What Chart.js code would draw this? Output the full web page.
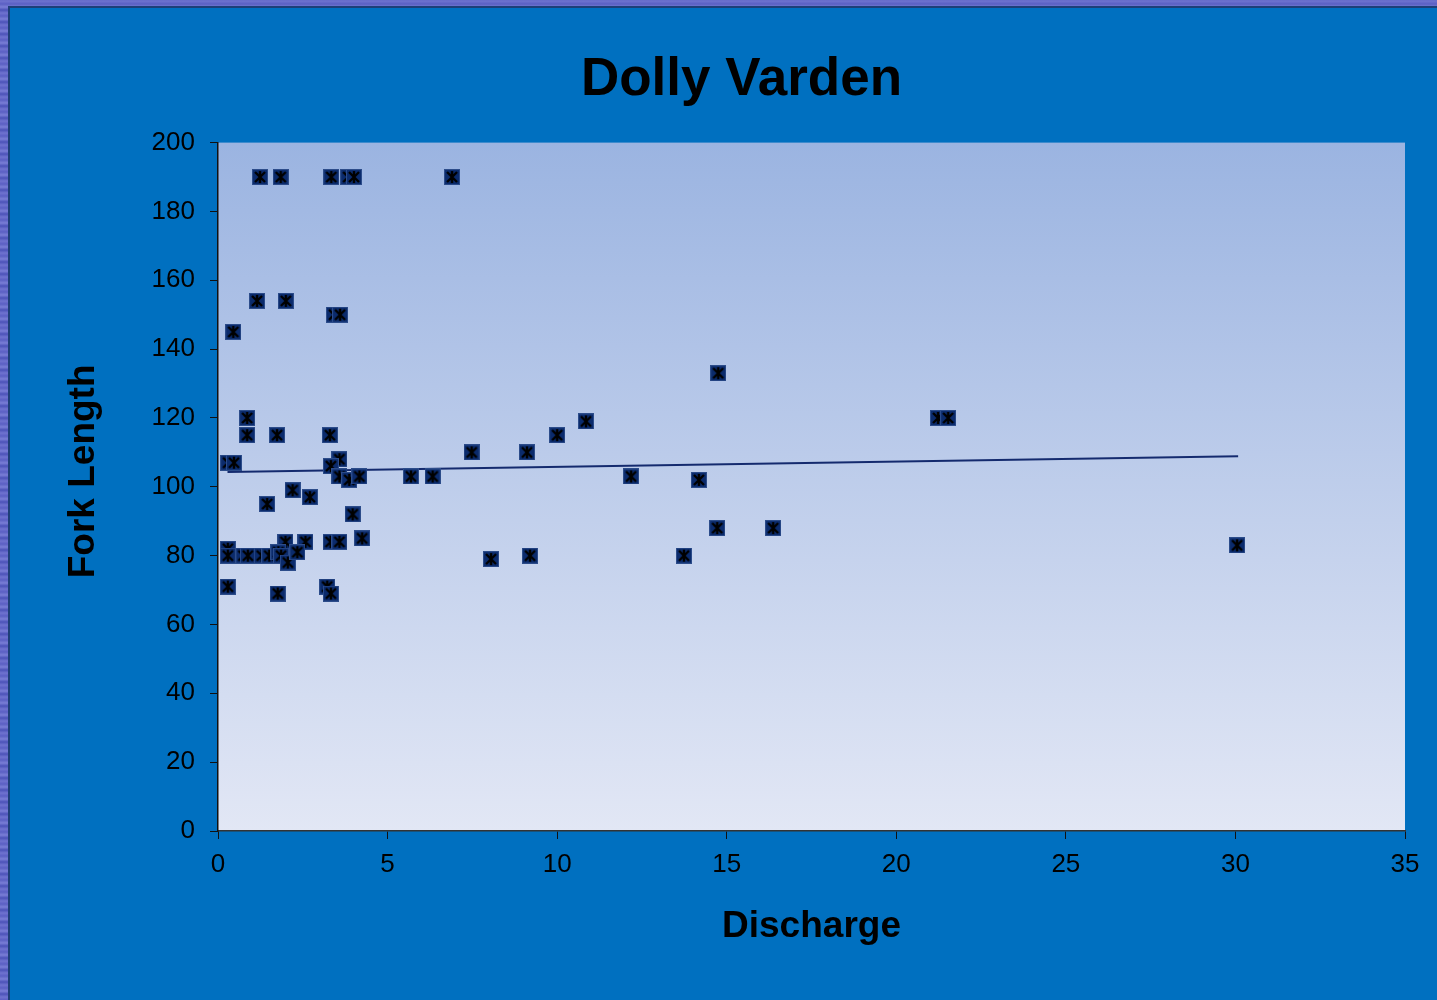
<!DOCTYPE html>
<html>
<head>
<meta charset="utf-8">
<script src="https://cdn.jsdelivr.net/npm/chart.js@4.4.1/dist/chart.umd.min.js"></script>
<style>
  html,body{margin:0;padding:0;width:1437px;height:1000px;overflow:hidden;}
  body{background:repeating-linear-gradient(0deg,#5b5fc4 0px,#6f73cf 3px,#4b52b8 6px,#7a7ed6 9px,#5a60c2 12px);}
  #frame{position:absolute;left:8px;top:6px;right:0;bottom:0;background:#0070c0;border-left:2px solid #1d3f78;border-top:2px solid #1d3f78;}
  #wrap{position:absolute;left:0;top:0;width:1437px;height:1000px;}
</style>
</head>
<body>
<div id="frame"></div>
<div id="wrap"><canvas id="c" width="1437" height="1000"></canvas></div>
<script>
// discharge vs fork length
const discharge = [1.24,1.85,3.34,3.84,4.01,6.90,1.15,2.00,3.42,3.60,
  0.45,0.86,0.86,1.74,3.30,0.30,0.47,3.58,3.33,3.58,
  3.87,4.17,5.69,6.33,7.48,2.20,2.71,1.45,3.97,4.25,
  1.99,2.58,3.32,3.58,0.29,0.29,0.75,0.88,1.29,1.51,
  1.78,1.86,2.06,2.34,0.29,1.76,3.22,3.33,8.05,9.11,
  10.00,10.85,9.20,12.18,13.74,14.18,14.75,14.72,16.37,21.23,
  21.53,30.05];
const forkLength = [190,190,190,190,190,190,154,154,150,150,
  145,120,115,115,115,107,107,108,106,103,
  102,103,103,103,110,99,97,95,92,85,
  84,84,84,84,82,80,80,80,80,80,
  81,80,78,81,71,69,71,69,79,110,
  115,119,80,103,80,102,133,88,88,120,
  120,83];
const trendX = [0.28,30.08];
const trendY = [104.3,108.9];
const xTicks = [0,5,10,15,20,25,30,35];
const yTicks = [0,20,40,60,80,100,120,140,160,180,200];

const points = discharge.map((x,i)=>({x:x,y:forkLength[i]}));
const trend = trendX.map((x,i)=>({x:x,y:trendY[i]}));

// marker: navy square with black asterisk
function makeMarker(){
  const m = document.createElement('canvas');
  m.width = 16; m.height = 16;
  const g = m.getContext('2d');
  g.fillStyle = '#0b2b6c';
  g.fillRect(0.5,0.5,15,15);
  g.strokeStyle = '#2c4c8a';
  g.lineWidth = 1;
  g.strokeRect(0.5,0.5,15,15);
  g.strokeStyle = '#000';
  g.lineWidth = 2.4;
  g.beginPath();
  g.moveTo(3,3); g.lineTo(13,13);
  g.moveTo(13,3); g.lineTo(3,13);
  g.moveTo(8,2); g.lineTo(8,14);
  g.stroke();
  return m;
}
const marker = makeMarker();

const plotBg = {
  id:'plotBg',
  beforeDraw(chart){
    const a = chart.chartArea, ctx = chart.ctx;
    const grad = ctx.createLinearGradient(0,a.top,0,a.bottom);
    grad.addColorStop(0,'#9bb4e1');
    grad.addColorStop(1,'#e2e7f5');
    ctx.save();
    ctx.fillStyle = grad;
    ctx.fillRect(a.left,a.top,a.right-a.left,a.bottom-a.top);
    ctx.restore();
  }
};

const FONT = 'Liberation Sans, Arial, sans-serif';

new Chart(document.getElementById('c'),{
  type:'scatter',
  data:{
    datasets:[
      {label:'Fork Length',data:points,pointStyle:marker,pointRadius:8,pointHoverRadius:8,order:1},
      {label:'Trend',type:'line',data:trend,borderColor:'#142a6e',borderWidth:2,pointRadius:0,fill:false,order:2}
    ]
  },
  options:{
    responsive:false,
    animation:false,
    devicePixelRatio:1,
    layout:{autoPadding:false,padding:{left:78,right:32,top:0,bottom:0}},
    plugins:{
      legend:{display:false},
      tooltip:{enabled:false},
      title:{display:true,text:'Dolly Varden',color:'#000',font:{family:FONT,size:53,weight:'bold'},padding:{top:49,bottom:30}}
    },
    scales:{
      x:{
        type:'linear',min:0,max:35,
        afterFit(s){ s.height = 169; },
        afterBuildTicks(s){ s.ticks = xTicks.map(v=>({value:v})); },
        border:{display:true,color:'#333',width:1.5},
        grid:{drawOnChartArea:false,drawTicks:true,tickLength:8,color:'#111'},
        ticks:{color:'#000',font:{family:FONT,size:26},padding:10,maxRotation:0},
        title:{display:true,text:'Discharge',color:'#000',font:{family:FONT,size:37,weight:'bold'},padding:{top:0,bottom:51}}
      },
      y:{
        type:'linear',min:0,max:200,
        afterFit(s){ s.width = 140; },
        afterBuildTicks(s){ s.ticks = yTicks.map(v=>({value:v})); },
        border:{display:true,color:'#111',width:1.5},
        grid:{drawOnChartArea:false,drawTicks:true,tickLength:8,color:'#111'},
        ticks:{color:'#000',font:{family:FONT,size:26},padding:15},
        title:{display:true,text:'   Fork Length',color:'#000',font:{family:FONT,size:37,weight:'bold'},padding:{top:-16,bottom:0}}
      }
    }
  },
  plugins:[plotBg]
});
</script>
</body>
</html>
